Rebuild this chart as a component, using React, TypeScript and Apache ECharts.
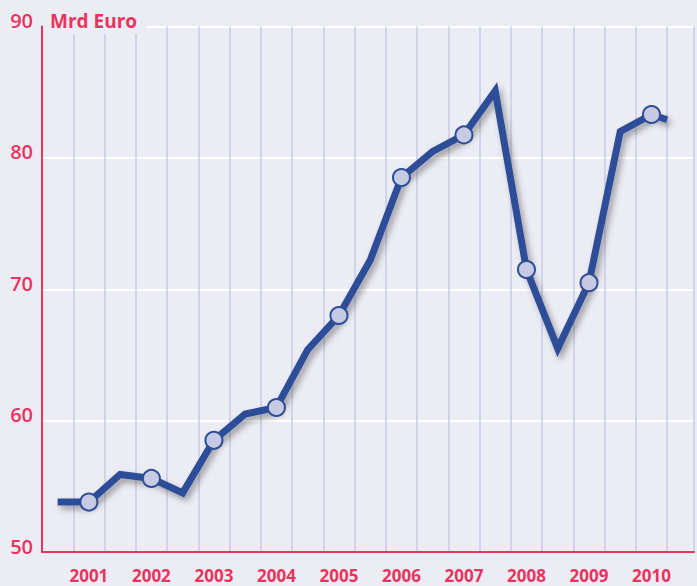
import React, { useEffect, useRef } from "react";
import * as echarts from "echarts";

const yearLabels = ["2001", "2002", "2003", "2004", "2005", "2006", "2007", "2008", "2009", "2010"];
// half-year values, index 0 = mid 2000 ... index 19 = end 2010
const halfYearValues = [53.8, 53.8, 55.9, 55.6, 54.5, 58.5, 60.5, 61.0, 65.4, 68.0, 72.2, 78.5, 80.5, 81.75, 85.1, 71.5, 65.5, 70.5, 82.0, 83.3];
const tailValue = 82.9;
const yTicks = [50, 60, 70, 80, 90];
const unitLabel = "Mrd Euro";

const PINK = "#e8345e";
const BLUE = "#2e4e98";
const BG = "#ececf4";

export default function App() {
  const ref = useRef<HTMLDivElement>(null);
  useEffect(() => {
    document.body.style.margin = "0";
    const chart = echarts.init(ref.current!, null, { renderer: "svg" });
    const pos = (i: number) => 4 * i + 2;
    const data: any[] = halfYearValues.map((v, i) => ({
      value: [pos(i), v],
      symbol: i % 2 === 1 ? "circle" : "none",
    }));
    data.push({ value: [pos(19.5), tailValue], symbol: "none" });
    const xMax = (655 / 31.4) * 4;
    chart.setOption({
      animation: false,
      backgroundColor: BG,
      grid: { left: 42, right: 0, top: 26.5, bottom: 34 },
      xAxis: [
        {
          type: "value",
          min: 0,
          max: xMax,
          interval: 4,
          axisLine: { show: true, lineStyle: { color: PINK, width: 2 } },
          axisTick: { show: false },
          axisLabel: { show: false },
          splitLine: { show: true, lineStyle: { color: "#c9cde4", width: 1.5 } },
        },
        {
          type: "value",
          min: 0,
          max: xMax,
          interval: 2,
          position: "bottom",
          axisLine: { show: false },
          axisTick: { show: false },
          splitLine: { show: false },
          axisLabel: {
            show: true,
            margin: 15,
            color: PINK,
            fontSize: 17,
            lineHeight: 17,
            fontWeight: "bold",
            fontFamily: "'Liberation Sans Narrow', 'Open Sans', sans-serif",
            showMinLabel: true,
            showMaxLabel: true,
            formatter: (v: number) => {
              const k = (v - 6) / 8;
              if (Math.abs(k - Math.round(k)) < 1e-6 && k >= 0 && k < yearLabels.length) return yearLabels[Math.round(k)];
              return "";
            },
          },
        },
      ],
      yAxis: {
        type: "value",
        min: yTicks[0],
        max: yTicks[yTicks.length - 1],
        interval: 10,
        axisLine: { show: true, lineStyle: { color: PINK, width: 2 } },
        axisTick: { show: false },
        axisLabel: {
          color: PINK,
          fontSize: 20,
          margin: 9,
          lineHeight: 12,
          fontFamily: "'Open Sans', sans-serif",
          fontWeight: 600,
          verticalAlign: "bottom",
        },
        splitLine: { show: true, lineStyle: { color: "#ffffff", width: 2 } },
      },
      graphic: [
        { type: "rect", shape: { x: 43, y: 18, width: 104, height: 16 }, style: { fill: BG }, z: 100 },
        {
          type: "text",
          x: 50,
          y: 21,
          z: 101,
          style: {
            text: unitLabel,
            fill: PINK,
            font: "bold 19px 'Open Sans', sans-serif",
            verticalAlign: "middle",
          },
        },
      ],
      series: [
        {
          type: "line",
          xAxisIndex: 0,
          data,
          symbolSize: 17,
          lineStyle: {
            color: BLUE,
            width: 7,
            join: "miter",
            shadowColor: "rgba(0,0,0,0.35)",
            shadowBlur: 6,
            shadowOffsetX: 3,
            shadowOffsetY: 4,
          },
          itemStyle: { color: "#c7cae3", borderColor: BLUE, borderWidth: 2 },
          z: 5,
        },
      ],
    });
    return () => chart.dispose();
  }, []);
  return <div ref={ref} style={{ position: "fixed", left: 0, top: 0, width: 697, height: 586 }} />;
}
